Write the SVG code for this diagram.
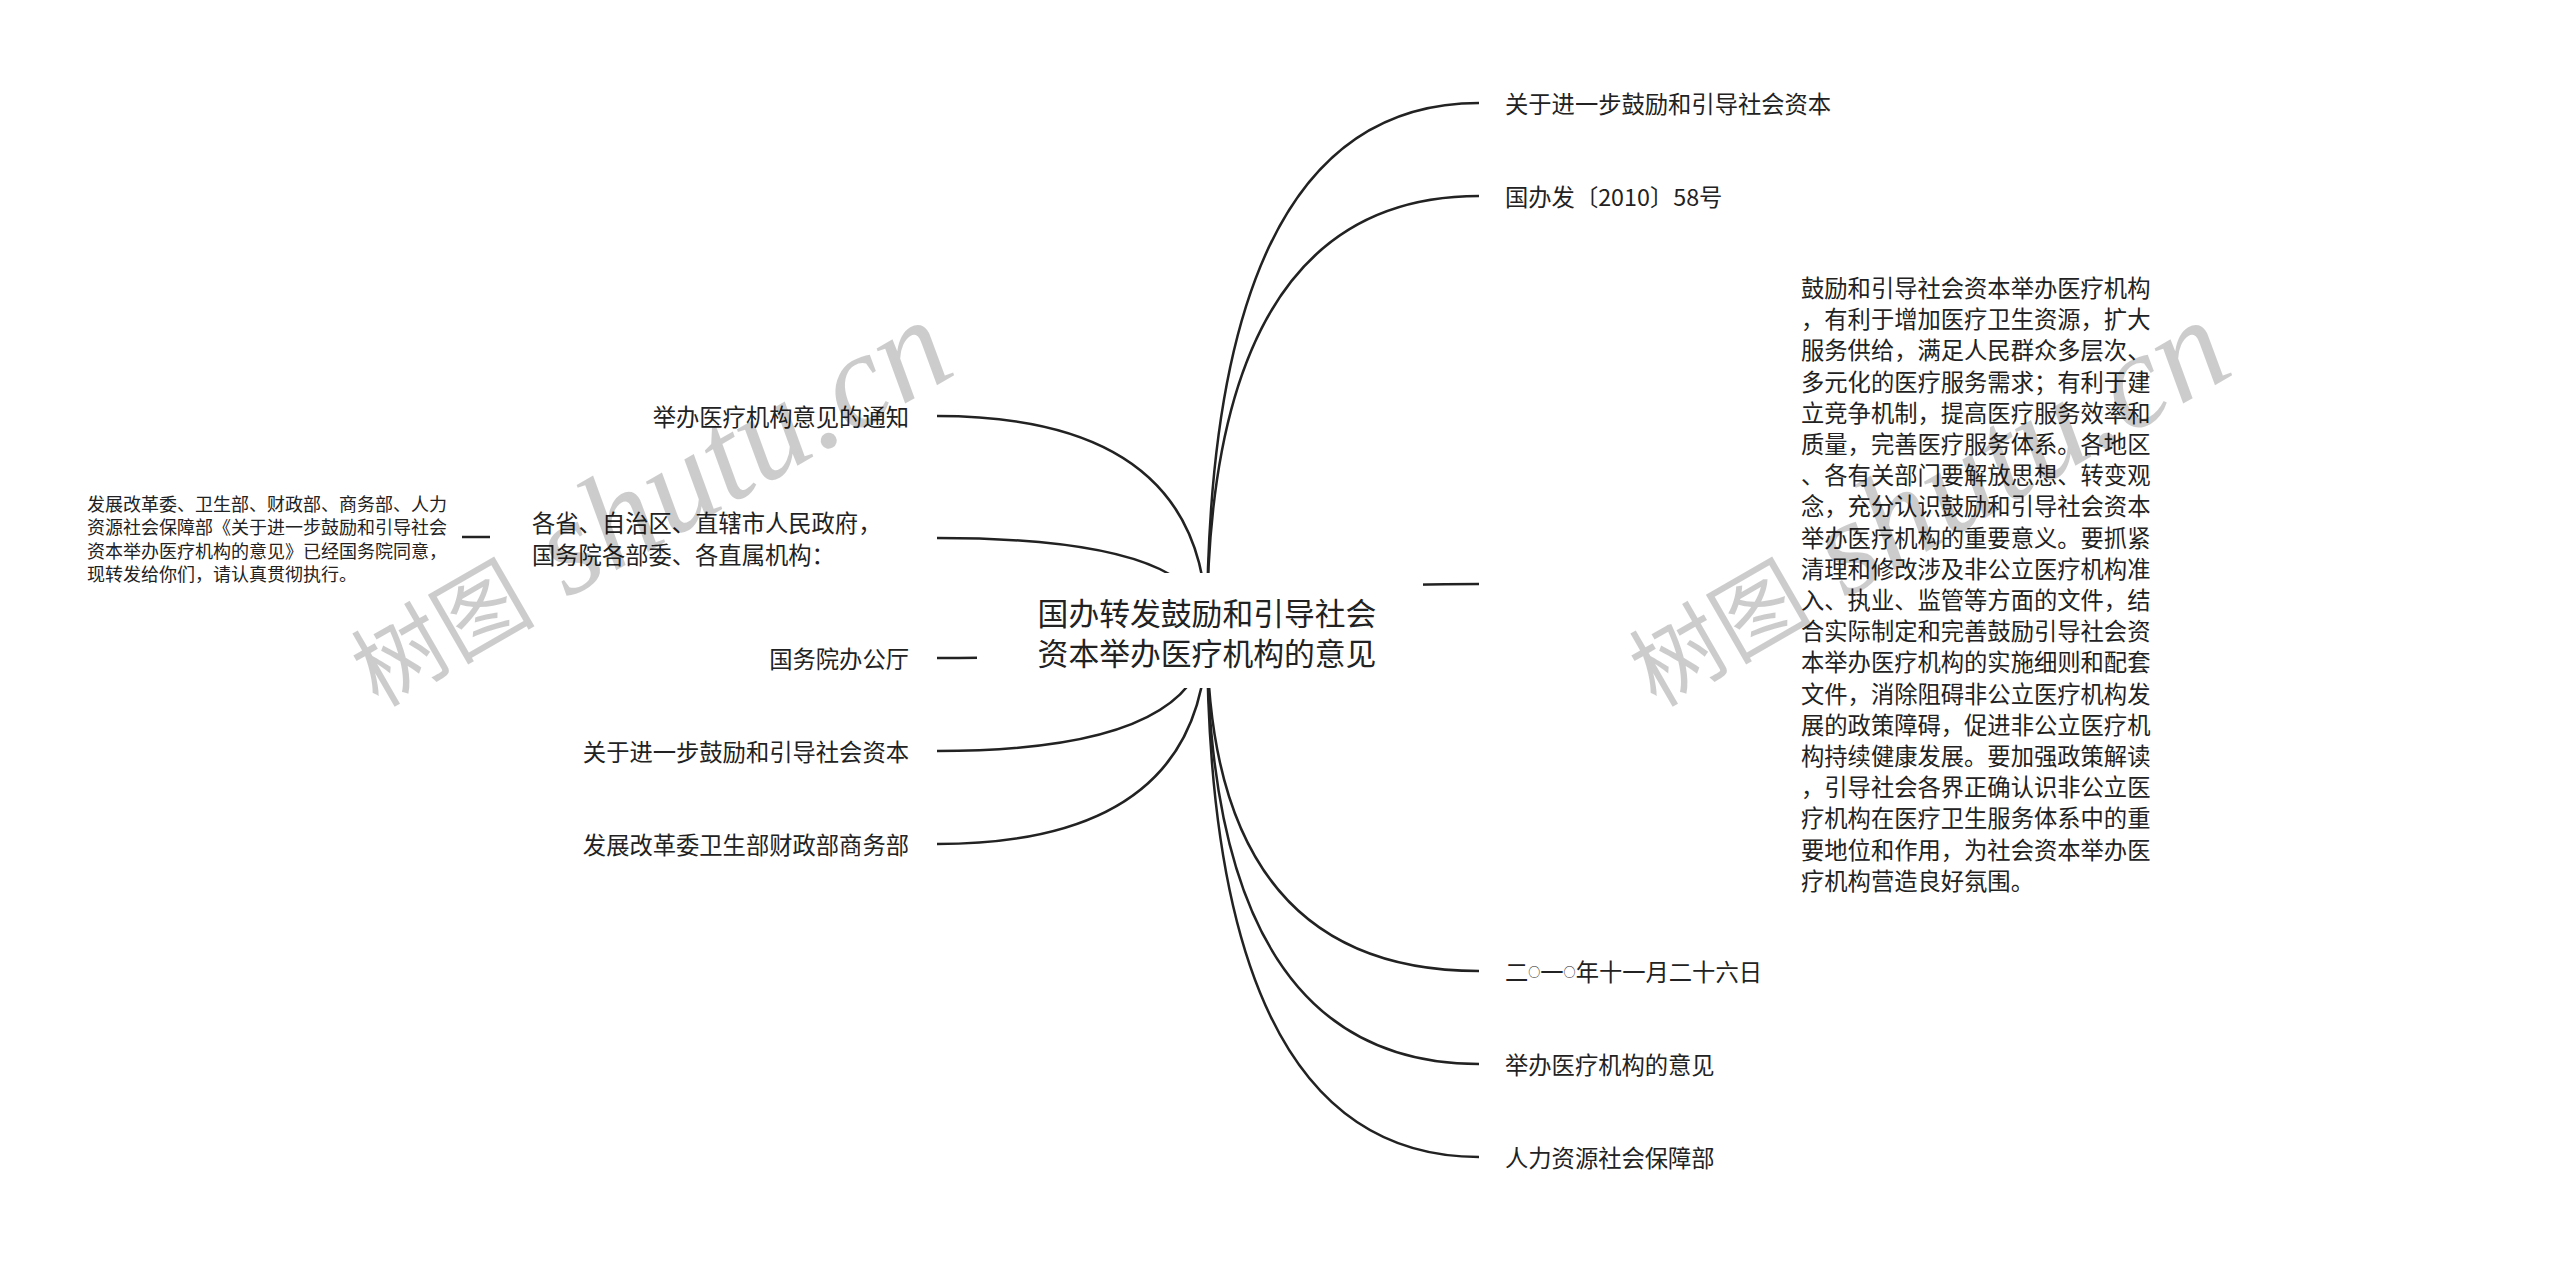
<svg xmlns="http://www.w3.org/2000/svg" width="2560" height="1262" viewBox="0 0 2560 1262">
<style>
.bg{fill:#ffffff}
.link{fill:none;stroke:#222;stroke-width:2.5}
.t{font-family:"Noto Sans CJK SC","Noto Sans",sans-serif;fill:#222;font-size:23.3px;dominant-baseline:central}
.root{font-size:30.8px;text-anchor:middle}
.small{font-size:18px}
.end{text-anchor:end}
.circ{font-size:12px}
.wm{fill:#000;fill-opacity:0.2}
.wmc{font-family:"Noto Sans CJK SC",sans-serif;font-size:92px}
.wml{font-family:"Liberation Serif",serif;font-style:italic;font-size:135px}
</style>
<rect class="bg" x="0" y="0" width="2560" height="1262"/>
<g id="connectors">
<path class="link" d="M1207,630 Q1207,103 1479,103"/>
<path class="link" d="M1207,630 Q1207,196 1479,196"/>
<path class="link" d="M1207,630 Q1207,584 1479,584"/>
<path class="link" d="M1207,630 Q1207,971 1479,971"/>
<path class="link" d="M1207,630 Q1207,1064 1479,1064"/>
<path class="link" d="M1207,630 Q1207,1157 1479,1157"/>
<path class="link" d="M1207,630 Q1207,416 937,416"/>
<path class="link" d="M1207,630 Q1207,538 937,538"/>
<path class="link" d="M1207,630 Q1207,658 937,658"/>
<path class="link" d="M1207,630 Q1207,751 937,751"/>
<path class="link" d="M1207,630 Q1207,844 937,844"/>
<path class="link" d="M462,537 L490,537"/>
</g>
<g id="root">
<rect class="bg" x="977" y="573" width="446" height="115"/>
<text class="t root" x="1207" y="611">国办转发鼓励和引导社会</text>
<text class="t root" x="1207" y="651">资本举办医疗机构的意见</text>
</g>
<g id="r1"><text class="t" x="1505" y="103">关于进一步鼓励和引导社会资本</text></g>
<g id="r2"><text class="t" x="1505" y="196">国办发〔2010〕58号</text></g>
<g id="r3">
<text class="t" x="1801" y="287">鼓励和引导社会资本举办医疗机构</text>
<text class="t" x="1801" y="318.2">，有利于增加医疗卫生资源，扩大</text>
<text class="t" x="1801" y="349.4">服务供给，满足人民群众多层次、</text>
<text class="t" x="1801" y="380.6">多元化的医疗服务需求；有利于建</text>
<text class="t" x="1801" y="411.8">立竞争机制，提高医疗服务效率和</text>
<text class="t" x="1801" y="443">质量，完善医疗服务体系。各地区</text>
<text class="t" x="1801" y="474.2">、各有关部门要解放思想、转变观</text>
<text class="t" x="1801" y="505.4">念，充分认识鼓励和引导社会资本</text>
<text class="t" x="1801" y="536.6">举办医疗机构的重要意义。要抓紧</text>
<text class="t" x="1801" y="567.8">清理和修改涉及非公立医疗机构准</text>
<text class="t" x="1801" y="599">入、执业、监管等方面的文件，结</text>
<text class="t" x="1801" y="630.2">合实际制定和完善鼓励引导社会资</text>
<text class="t" x="1801" y="661.4">本举办医疗机构的实施细则和配套</text>
<text class="t" x="1801" y="692.6">文件，消除阻碍非公立医疗机构发</text>
<text class="t" x="1801" y="723.8">展的政策障碍，促进非公立医疗机</text>
<text class="t" x="1801" y="755">构持续健康发展。要加强政策解读</text>
<text class="t" x="1801" y="786.2">，引导社会各界正确认识非公立医</text>
<text class="t" x="1801" y="817.4">疗机构在医疗卫生服务体系中的重</text>
<text class="t" x="1801" y="848.6">要地位和作用，为社会资本举办医</text>
<text class="t" x="1801" y="879.8">疗机构营造良好氛围。</text>
</g>
<g id="r4"><text class="t" x="1505" y="971">二<tspan class="circ">○</tspan>一<tspan class="circ">○</tspan>年十一月二十六日</text></g>
<g id="r5"><text class="t" x="1505" y="1064">举办医疗机构的意见</text></g>
<g id="r6"><text class="t" x="1505" y="1157">人力资源社会保障部</text></g>
<g id="l1"><text class="t end" x="909" y="416">举办医疗机构意见的通知</text></g>
<g id="l2">
<text class="t" x="532" y="522">各省、自治区、直辖市人民政府，</text>
<text class="t" x="532" y="554">国务院各部委、各直属机构：</text>
</g>
<g id="l2a">
<text class="t small" x="87" y="503">发展改革委、卫生部、财政部、商务部、人力</text>
<text class="t small" x="87" y="526.3">资源社会保障部《关于进一步鼓励和引导社会</text>
<text class="t small" x="87" y="549.6">资本举办医疗机构的意见》已经国务院同意，</text>
<text class="t small" x="87" y="573">现转发给你们，请认真贯彻执行。</text>
</g>
<g id="l3"><text class="t end" x="909" y="658">国务院办公厅</text></g>
<g id="l4"><text class="t end" x="909" y="751">关于进一步鼓励和引导社会资本</text></g>
<g id="l5"><text class="t end" x="909" y="844">发展改革委卫生部财政部商务部</text></g>
<g id="watermarks" class="wm">
<text transform="translate(378,708) rotate(-30)"><tspan class="wmc">树图</tspan><tspan class="wml"> shutu.cn</tspan></text>
<text transform="translate(1656,708) rotate(-30)"><tspan class="wmc">树图</tspan><tspan class="wml"> shutu.cn</tspan></text>
</g>
</svg>
